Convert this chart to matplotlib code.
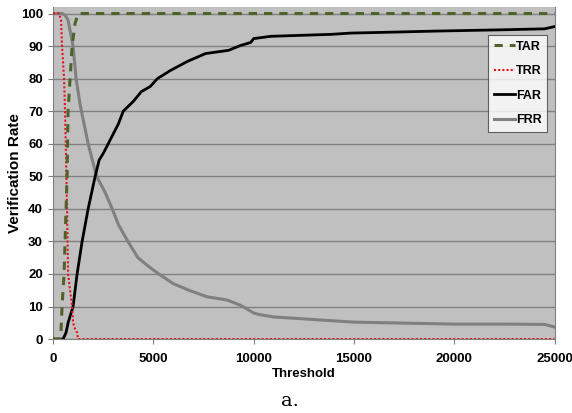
import matplotlib.pyplot as plt
from matplotlib.lines import Line2D

# threshold / rate pairs for each curve
tar_x = [0, 350, 400, 450, 550, 600, 700, 750, 850, 950, 1100, 1250, 25000]
tar_y = [0, 0, 3, 10, 20, 30, 50, 70, 80, 90, 97, 100, 100]

trr_x = [0, 300, 400, 450, 550, 600, 700, 750, 950, 1000, 1100, 1200, 1250, 25000]
trr_y = [100, 100, 98, 90, 80, 70, 40, 20, 10, 5, 3, 2, 0, 0]

far_x = [0, 500, 650, 750, 1000, 1200, 1450, 1750, 2100, 2300, 2500, 2750, 3000,
         3250, 3500, 4000, 4400, 4850, 5200, 5850, 6700, 7600, 8750, 9350, 9850,
         10000, 10850, 12350, 13850, 14850, 16350, 19000, 22350, 24500, 25000]
far_y = [0, 0, 2, 5, 10, 20, 30, 40, 50, 55, 57, 60, 63, 66, 70, 73, 76, 77.6,
         80, 82.5, 85.3, 87.7, 88.7, 90.2, 91.1, 92.3, 93, 93.3, 93.6, 94, 94.2,
         94.6, 95, 95.3, 96]

frr_x = [0, 450, 600, 750, 1000, 1150, 1350, 1750, 2170, 2600, 2950, 3270, 3730,
         4230, 4830, 5270, 6000, 6770, 7670, 8670, 9300, 9600, 10000, 10300, 11000,
         12500, 15000, 17500, 20000, 22500, 24500, 25000]
frr_y = [100, 100, 99.5, 98, 90, 80, 72, 60, 50, 45, 40, 35, 30, 25, 22, 20, 17,
         15, 13, 12, 10.5, 9.5, 8, 7.5, 6.8, 6.2, 5.2, 4.9, 4.6, 4.6, 4.5, 3.7]

series = ['TAR', 'TRR', 'FAR', 'FRR']

plt.rcParams['font.family'] = ['Liberation Sans', 'DejaVu Sans']

fig = plt.figure(figsize=(5.72, 4.13), dpi=100)
ax = fig.add_axes([0.0927, 0.179, 0.877, 0.804])
ax.set_facecolor('#c0c0c0')

ax.plot(frr_x, frr_y, color='#808080', lw=2.2, zorder=3)
ax.plot(far_x, far_y, color='black', lw=2.0, zorder=4)
ax.plot(trr_x, trr_y, color='#e8101a', lw=1.5, ls=(0, (1, 1)), zorder=5)
ax.plot(tar_x, tar_y, color='#4f6228', lw=2.2, ls=(0, (2.7, 2.3)), zorder=6)

ax.set_xlim(0, 25000)
ax.set_ylim(0, 102)
ax.set_xticks(range(0, 25001, 5000))
ax.set_yticks(range(0, 101, 10))
ax.grid(axis='y', color='#808080', lw=1.0)
ax.set_axisbelow(True)

for lab in ax.get_xticklabels() + ax.get_yticklabels():
    lab.set_fontweight('bold')
    lab.set_fontsize(9.5)
ax.tick_params(axis='both', colors='#808080', length=3.6, labelcolor='black')
ax.tick_params(axis='x', pad=6.5)
ax.tick_params(axis='y', pad=3.6)

ax.spines['top'].set_visible(False)
for s in ['left', 'right', 'bottom']:
    ax.spines[s].set_color('#808080')

ax.set_xlabel('Threshold', fontsize=9.5, fontweight='bold', va='center')
ax.xaxis.set_label_coords(0.5, -0.106)
ax.set_ylabel('Verification Rate', fontsize=11, fontweight='bold', va='center')
ax.yaxis.set_label_coords(-0.076, 0.5)

handles = [
    Line2D([], [], color='#4f6228', lw=2.2, ls=(0, (2.7, 2.3))),
    Line2D([], [], color='#e8101a', lw=1.5, ls=(0, (1, 1))),
    Line2D([], [], color='black', lw=2.0),
    Line2D([], [], color='#808080', lw=2.2),
]
leg = ax.legend(handles, series, loc='upper left', bbox_to_anchor=(0.867, 0.916),
                prop={'weight': 'bold', 'size': 9}, frameon=True, fancybox=False,
                handlelength=1.7, handletextpad=0.1, labelspacing=1.0,
                borderpad=0.45, borderaxespad=0)
leg.get_frame().set_edgecolor('#404040')
leg.get_frame().set_linewidth(0.8)
leg.get_frame().set_facecolor('white')
leg.set_zorder(10)

fig.text(0.507, 0.017, 'a.', fontsize=14, family='DejaVu Serif', ha='center')

fig.savefig('out.png', dpi=100)
